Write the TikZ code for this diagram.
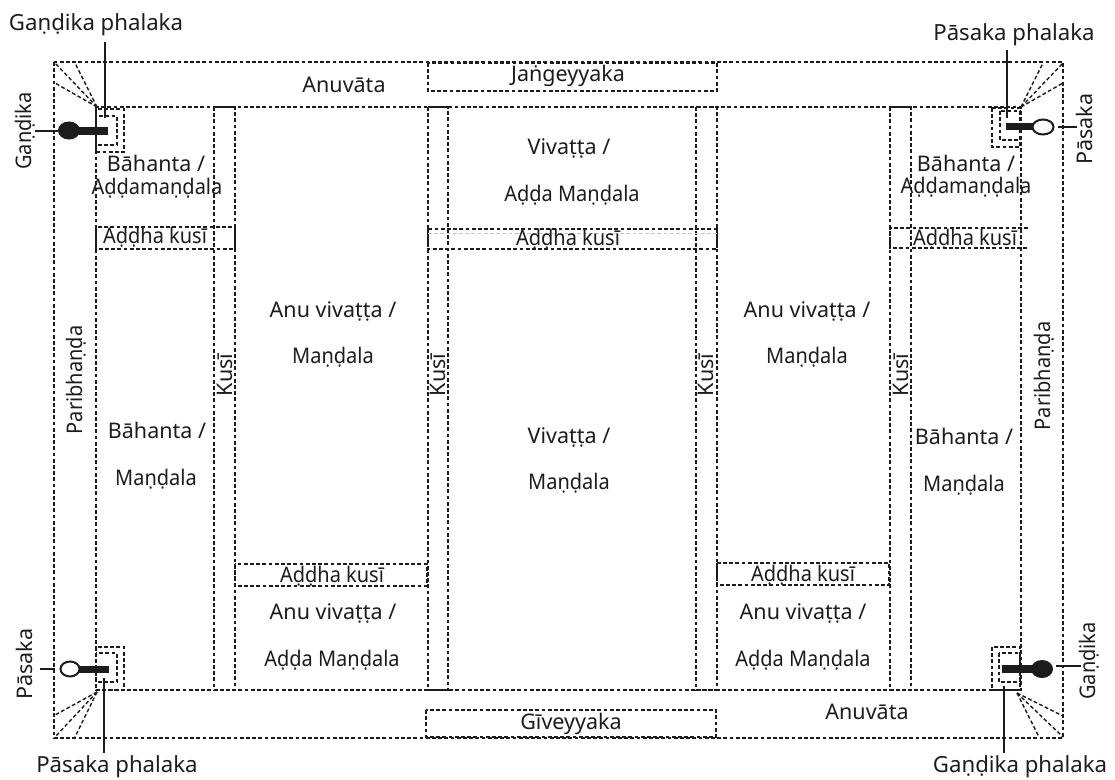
\documentclass[tikz,border=0pt]{standalone}
\usepackage{fontspec}
\setmainfont{Noto Sans}
\newfontfamily\tightfont[FakeStretch=0.93]{Noto Sans}
\definecolor{ink}{HTML}{1C1C1C}
\tikzset{
  dsh/.style={draw=ink,line width=1.4pt,dash pattern=on 3.8pt off 2.4pt},
  lbl/.style={font=\fontsize{21.5}{23}\selectfont,text=ink,inner sep=0pt,text height=15.4pt,text depth=0pt},
  tlbl/.style={font=\fontsize{21.5}{23}\selectfont\tightfont,text=ink,inner sep=0pt,text height=15.4pt,text depth=0pt},
  olbl/.style={font=\fontsize{22.2}{24}\selectfont,text=ink,inner sep=0pt,text height=15.8pt,text depth=0pt},
  vlbl/.style={lbl,rotate=90},
  vtlbl/.style={tlbl,rotate=90},
  leader/.style={draw=ink,line width=1.5pt},
  stem/.style={draw=ink,line width=2.2pt},
  shaft/.style={fill=ink,draw=none},
  headsolid/.style={fill=ink,draw=none},
  headopen/.style={fill=white,draw=ink,line width=2pt}
}
\begin{document}
\begin{tikzpicture}[x=1pt,y=-1pt]
\useasboundingbox (0,0) rectangle (1115,779);
% main frames
\draw[dsh] (54,62) rectangle (1063,738);
\draw[dsh] (96,107) rectangle (1021,690);
\draw[dsh] (428,63) rectangle (717,91);
\draw[dsh] (426,710) rectangle (716,737);
% kusi strips
\foreach \a/\b in {214/235,428/448,696/717,890/911}{\draw[dsh] (\a,107) rectangle (\b,690);}
% addha kusi
\draw[dsh] (96,227) rectangle (235,249);
\draw[dsh] (428,229) rectangle (717,249);
\draw[draw=gray!45,line width=.6pt,dash pattern=on 3.8pt off 2.4pt] (428,233) -- (717,233);
\draw[dsh] (1028,228) -- (890,228) -- (890,248) -- (1028,248);
\draw[dsh] (235,564) rectangle (427,586);
\draw[dsh] (717,563) rectangle (889,585);
% phalaka boxes
\draw[dsh] (96,109) rectangle (124,152);
\draw[dsh] (96,116) rectangle (117,145);
\draw[dsh] (992,108) rectangle (1020,147);
\draw[dsh] (1000,111) rectangle (1020,140);
\draw[dsh] (96,647) rectangle (124,690);
\draw[dsh] (96,653) rectangle (117,682);
\draw[dsh] (992,647) rectangle (1020,690);
\draw[dsh] (999,653) rectangle (1020,682);
% corner fans
\foreach \x/\y in {55/63,75/63,55/83}{\draw[dsh] (97,107) -- (\x,\y);}
\foreach \x/\y in {1063/63,1043/63,1063/83}{\draw[dsh] (1021,107) -- (\x,\y);}
\foreach \x/\y in {55/737,75/737,55/715}{\draw[dsh] (97,692) -- (\x,\y);}
\foreach \x/\y in {1063/737,1039/737,1063/716}{\draw[dsh] (1017,693) -- (\x,\y);}
% keys
\fill[shaft] (76,127) rectangle (108,135);
\fill[headsolid] (69,130.5) ellipse [x radius=11,y radius=9];
\fill[shaft] (1006,123) rectangle (1036,129.5);
\draw[headopen] (1043,127) ellipse [x radius=10.5,y radius=7.5];
\fill[shaft] (79,665.5) rectangle (109,673);
\draw[headopen] (70,669) ellipse [x radius=9.5,y radius=7.5];
\fill[shaft] (1002,665) rectangle (1035,673);
\fill[headsolid] (1042,669) ellipse [x radius=11,y radius=9];
% labels
\node[olbl] (gpTL) at (96,23) {Gaṇḍika phalaka};
\node[olbl] (ppTR) at (1014,33) {Pāsaka phalaka};
\node[olbl] (ppBL) at (117,765) {Pāsaka phalaka};
\node[olbl] (gpBR) at (1020,765) {Gaṇḍika phalaka};
\node[vtlbl] (gTL) at (24,131) {Gaṇḍika};
\node[vlbl] (pTR) at (1085,129) {Pāsaka};
\node[vlbl] (pBL) at (25,664) {Pāsaka};
\node[vtlbl] (gBR) at (1088,661) {Gaṇḍika};
\node[lbl] (anuT) at (344,85) {Anuvāta};
\node[lbl] (jang) at (568,74) {Jaṅgeyyaka};
\node[lbl] (anuB) at (867,712) {Anuvāta};
\node[lbl] (give) at (571,722) {Gīveyyaka};
\node[lbl] (b1) at (156,164) {Bāhanta /};
\node[tlbl] (a1) at (157,187) {Aḍḍamaṇḍala};
\node[tlbl] (k1) at (155,236) {Aḍḍha kusī};
\node[lbl] (b2) at (966,164) {Bāhanta /};
\node[tlbl] (a2) at (966,186) {Aḍḍamaṇḍala};
\node[tlbl] (k2) at (965,238) {Aḍḍha kusī};
\node[lbl] (v1) at (569,147) {Vivaṭṭa /};
\node[tlbl] (a3) at (572,194) {Aḍḍa Maṇḍala};
\node[tlbl] (k3) at (568,238) {Aḍḍha kusī};
\node[lbl] (av1) at (333,310) {Anu vivaṭṭa /};
\node[tlbl] (m1) at (333,356) {Maṇḍala};
\node[lbl] (av2) at (807,310) {Anu vivaṭṭa /};
\node[tlbl] (m2) at (807,356) {Maṇḍala};
\node[vtlbl] (par1) at (75,380) {Paribhaṇḍa};
\node[vtlbl] (par2) at (1043,376) {Paribhaṇḍa};
\node[vlbl] (ku1) at (225,375) {Kusī};
\node[vlbl] (ku2) at (438,375) {Kusī};
\node[vlbl] (ku3) at (706,375) {Kusī};
\node[vlbl] (ku4) at (901,375) {Kusī};
\node[lbl] (b3) at (157,431) {Bāhanta /};
\node[tlbl] (m3) at (156,478) {Maṇḍala};
\node[lbl] (b4) at (964,437) {Bāhanta /};
\node[tlbl] (m4) at (964,484) {Maṇḍala};
\node[lbl] (v2) at (569,436) {Vivaṭṭa /};
\node[tlbl] (m5) at (569,482) {Maṇḍala};
\node[tlbl] (k4) at (332,575) {Aḍḍha kusī};
\node[tlbl] (k5) at (803,574) {Aḍḍha kusī};
\node[lbl] (av3) at (333,612) {Anu vivaṭṭa /};
\node[tlbl] (ad1) at (332,659) {Aḍḍa Maṇḍala};
\node[lbl] (av4) at (803,612) {Anu vivaṭṭa /};
\node[tlbl] (ad2) at (803,659) {Aḍḍa Maṇḍala};
% leaders
\coordinate (c1a) at (105,42); \coordinate (c1b) at (105,118);
\coordinate (c2a) at (1007,50); \coordinate (c2b) at (1007,118);
\coordinate (c3a) at (104,678); \coordinate (c3b) at (104,753);
\coordinate (c4a) at (1004,686); \coordinate (c4b) at (1004,753);
\draw[stem] (c1a) -- (c1b);
\draw[stem] (c2a) -- (c2b);
\draw[leader] (c3a) -- (c3b);
\draw[stem] (c4a) -- (c4b);
\coordinate (l1a) at (35,131); \coordinate (l1b) at (58,131);
\coordinate (l2a) at (1058,127); \coordinate (l2b) at (1077,127);
\coordinate (l3a) at (40,669); \coordinate (l3b) at (55,669);
\coordinate (l4a) at (1056,666); \coordinate (l4b) at (1081,666);
\draw[leader] (l1a) -- (l1b);
\draw[leader] (l2a) -- (l2b);
\draw[stem] (l3a) -- (l3b);
\draw[leader] (l4a) -- (l4b);
\end{tikzpicture}
\end{document}
